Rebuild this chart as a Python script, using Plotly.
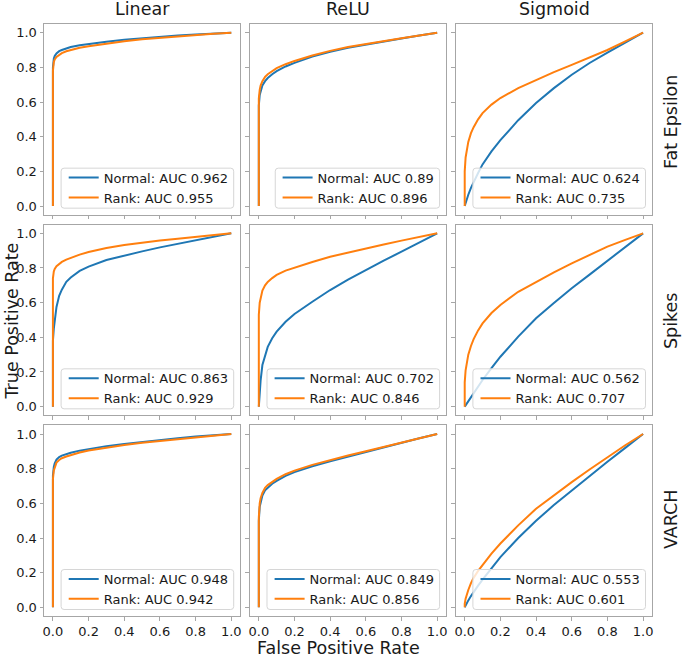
import plotly.graph_objects as go
from plotly.subplots import make_subplots

# Grid layout: columns are the activation, rows are the noise type
columns = ["Linear", "ReLU", "Sigmoid"]
rows = ["Fat Epsilon", "Spikes", "VARCH"]
tick_values = [0.0, 0.2, 0.4, 0.6, 0.8, 1.0]

# AUC values shown in the legends
auc_normal = [[0.962, 0.89, 0.624], [0.863, 0.702, 0.562], [0.948, 0.849, 0.553]]
auc_rank = [[0.955, 0.896, 0.735], [0.929, 0.846, 0.707], [0.942, 0.856, 0.601]]

# False positive rate grid shared by all curves
fpr = [0, 0, 0.005, 0.01, 0.02, 0.035, 0.05, 0.075, 0.1, 0.15, 0.2,
       0.3, 0.4, 0.5, 0.6, 0.7, 0.8, 0.9, 1.0]

# True positive rates, one list per curve
tpr_normal_linear_fat = [0, 0.80, 0.85, 0.865, 0.88, 0.893, 0.90, 0.91, 0.917, 0.927,
                         0.935, 0.948, 0.959, 0.968, 0.976, 0.983, 0.99, 0.995, 1.0]
tpr_rank_linear_fat = [0, 0.78, 0.83, 0.845, 0.86, 0.873, 0.882, 0.893, 0.90, 0.913,
                       0.922, 0.938, 0.951, 0.962, 0.971, 0.979, 0.987, 0.994, 1.0]
tpr_normal_relu_fat = [0, 0.58, 0.64, 0.665, 0.695, 0.72, 0.738, 0.76, 0.778, 0.805,
                       0.826, 0.862, 0.89, 0.913, 0.932, 0.95, 0.966, 0.983, 1.0]
tpr_rank_relu_fat = [0, 0.62, 0.67, 0.695, 0.72, 0.745, 0.76, 0.78, 0.795, 0.818,
                     0.837, 0.868, 0.895, 0.917, 0.935, 0.952, 0.968, 0.984, 1.0]
tpr_normal_sigmoid_fat = [0, 0, 0.02, 0.035, 0.065, 0.105, 0.14, 0.19, 0.24, 0.315,
                          0.38, 0.495, 0.594, 0.68, 0.757, 0.825, 0.885, 0.943, 1.0]
tpr_rank_sigmoid_fat = [0, 0.2, 0.28, 0.32, 0.37, 0.42, 0.455, 0.5, 0.536, 0.585,
                        0.623, 0.68, 0.728, 0.772, 0.814, 0.857, 0.9, 0.95, 1.0]

tpr_normal_linear_spikes = [0, 0.38, 0.45, 0.5, 0.575, 0.64, 0.675, 0.72, 0.745, 0.783,
                            0.808, 0.846, 0.872, 0.896, 0.919, 0.94, 0.962, 0.981, 1.0]
tpr_rank_linear_spikes = [0, 0.74, 0.78, 0.795, 0.81, 0.825, 0.835, 0.848, 0.858, 0.877,
                          0.892, 0.915, 0.933, 0.947, 0.958, 0.969, 0.98, 0.99, 1.0]
tpr_normal_relu_spikes = [0, 0, 0.1, 0.15, 0.24, 0.3, 0.345, 0.395, 0.433, 0.49,
                          0.535, 0.605, 0.673, 0.733, 0.79, 0.843, 0.894, 0.947, 1.0]
tpr_rank_relu_spikes = [0, 0.53, 0.6, 0.63, 0.67, 0.7, 0.72, 0.742, 0.76, 0.785,
                        0.803, 0.835, 0.865, 0.89, 0.913, 0.936, 0.958, 0.979, 1.0]
tpr_normal_sigmoid_spikes = [0, 0, 0.008, 0.016, 0.031, 0.054, 0.076, 0.115, 0.154, 0.222,
                             0.288, 0.404, 0.51, 0.598, 0.683, 0.762, 0.841, 0.92, 1.0]
tpr_rank_sigmoid_spikes = [0, 0.14, 0.21, 0.25, 0.3, 0.35, 0.39, 0.44, 0.48, 0.54,
                           0.587, 0.663, 0.72, 0.775, 0.827, 0.876, 0.923, 0.962, 1.0]

tpr_normal_linear_varch = [0, 0.76, 0.81, 0.83, 0.852, 0.867, 0.875, 0.885, 0.892, 0.904,
                           0.914, 0.93, 0.943, 0.955, 0.966, 0.976, 0.985, 0.993, 1.0]
tpr_rank_linear_varch = [0, 0.74, 0.79, 0.81, 0.835, 0.85, 0.86, 0.87, 0.878, 0.893,
                         0.905, 0.922, 0.936, 0.949, 0.96, 0.971, 0.982, 0.991, 1.0]
tpr_normal_relu_varch = [0, 0.5, 0.58, 0.61, 0.645, 0.675, 0.69, 0.713, 0.73, 0.758,
                         0.78, 0.814, 0.843, 0.87, 0.895, 0.922, 0.949, 0.975, 1.0]
tpr_rank_relu_varch = [0, 0.52, 0.6, 0.63, 0.66, 0.69, 0.705, 0.725, 0.741, 0.768,
                       0.789, 0.822, 0.85, 0.876, 0.9, 0.926, 0.952, 0.976, 1.0]
tpr_normal_sigmoid_varch = [0, 0, 0.012, 0.022, 0.04, 0.065, 0.09, 0.125, 0.16, 0.225,
                            0.29, 0.4, 0.5, 0.59, 0.675, 0.76, 0.84, 0.92, 1.0]
tpr_rank_sigmoid_varch = [0, 0.02, 0.05, 0.07, 0.1, 0.14, 0.17, 0.21, 0.243, 0.31,
                          0.368, 0.473, 0.569, 0.648, 0.722, 0.795, 0.866, 0.935, 1.0]

tpr_normal = [
    [tpr_normal_linear_fat, tpr_normal_relu_fat, tpr_normal_sigmoid_fat],
    [tpr_normal_linear_spikes, tpr_normal_relu_spikes, tpr_normal_sigmoid_spikes],
    [tpr_normal_linear_varch, tpr_normal_relu_varch, tpr_normal_sigmoid_varch],
]
tpr_rank = [
    [tpr_rank_linear_fat, tpr_rank_relu_fat, tpr_rank_sigmoid_fat],
    [tpr_rank_linear_spikes, tpr_rank_relu_spikes, tpr_rank_sigmoid_spikes],
    [tpr_rank_linear_varch, tpr_rank_relu_varch, tpr_rank_sigmoid_varch],
]

BLUE = "#1f77b4"
ORANGE = "#ff7f0e"
FRAME = "#a6a6a6"
TEXT = "#1a1a1a"
FONT = "DejaVu Sans"
LEGEND_SIZE = 13

W, H = 685, 657
ML, MR, MT, MB = 44, 33, 24, 41
PW, PH = W - ML - MR, H - MT - MB

# rough DejaVu Sans advance widths (in em) to size the legend frames
ADVANCE = {"N": 0.748, "o": 0.612, "r": 0.411, "m": 0.974, "a": 0.613, "l": 0.278,
           ":": 0.337, " ": 0.318, "A": 0.684, "U": 0.732, "C": 0.698, "R": 0.695,
           "n": 0.634, "k": 0.579, ".": 0.318}


def text_width(s):
    return sum(ADVANCE.get(ch, 0.636) for ch in s) * LEGEND_SIZE


def rounded_box(x0, y0, x1, y1, rx, ry):
    return (f"M {x0 + rx},{y0} L {x1 - rx},{y0} Q {x1},{y0} {x1},{y0 + ry} "
            f"L {x1},{y1 - ry} Q {x1},{y1} {x1 - rx},{y1} L {x0 + rx},{y1} "
            f"Q {x0},{y1} {x0},{y1 - ry} L {x0},{y0 + ry} Q {x0},{y0} {x0 + rx},{y0} Z")


fig = make_subplots(rows=3, cols=3, horizontal_spacing=9.7 / PW, vertical_spacing=10 / PH)

legends = {}
shapes = []
for r in range(3):
    for c in range(3):
        k = r * 3 + c + 1
        suffix = "" if k == 1 else str(k)
        leg_name = "legend" + suffix
        name_normal = f"Normal: AUC {auc_normal[r][c]}"
        name_rank = f"Rank: AUC {auc_rank[r][c]}"
        fig.add_trace(
            go.Scatter(x=fpr, y=tpr_normal[r][c], mode="lines",
                       line=dict(color=BLUE, width=2),
                       name=name_normal, legend=leg_name),
            row=r + 1, col=c + 1,
        )
        fig.add_trace(
            go.Scatter(x=fpr, y=tpr_rank[r][c], mode="lines",
                       line=dict(color=ORANGE, width=2),
                       name=name_rank, legend=leg_name),
            row=r + 1, col=c + 1,
        )
        xa = fig.layout["xaxis" + suffix]
        ya = fig.layout["yaxis" + suffix]
        pw = (xa.domain[1] - xa.domain[0]) * PW
        ph = (ya.domain[1] - ya.domain[0]) * PH

        # legend entries (frame drawn separately so it can be matplotlib-sized)
        legends[leg_name] = dict(
            x=xa.domain[1] - 6.5 / PW, y=ya.domain[0] + 2 / PH,
            xanchor="right", yanchor="bottom",
            bgcolor="rgba(0,0,0,0)", borderwidth=0,
            font=dict(family=FONT, size=LEGEND_SIZE, color=TEXT),
            itemwidth=30, tracegroupgap=0,
        )
        box_w = max(text_width(name_normal), text_width(name_rank)) + 48
        shapes.append(dict(
            type="path", xref=f"x{suffix} domain", yref=f"y{suffix} domain",
            path=rounded_box(1 - (6.5 + box_w) / pw, 6.5 / ph, 1 - 6.5 / pw,
                             46.5 / ph, 3 / pw, 3 / ph),
            line=dict(color="#d6d6d6", width=1),
            fillcolor="rgba(255,255,255,0.8)", layer="above",
        ))

fig.update_xaxes(range=[-0.05, 1.05], tickvals=tick_values, tickformat=".1f",
                 ticks="outside", ticklen=3.5, tickcolor=FRAME, tickwidth=1,
                 showline=True, linecolor=FRAME, linewidth=1, mirror=True,
                 showgrid=False, zeroline=False,
                 tickfont=dict(family=FONT, size=13, color=TEXT))
fig.update_yaxes(range=[-0.05, 1.05], tickvals=tick_values, tickformat=".1f",
                 ticks="outside", ticklen=3.5, tickcolor=FRAME, tickwidth=1,
                 showline=True, linecolor=FRAME, linewidth=1, mirror=True,
                 showgrid=False, zeroline=False,
                 tickfont=dict(family=FONT, size=13, color=TEXT))
for r in range(1, 3):
    fig.update_xaxes(showticklabels=False, row=r)
for c in range(2, 4):
    fig.update_yaxes(showticklabels=False, col=c)

annotations = []
col_centres = [142, 348, 554]
for name, cx in zip(columns, col_centres):
    annotations.append(dict(text=name, x=(cx - ML) / PW, y=1 + (MT - 9) / PH,
                            xref="paper", yref="paper", showarrow=False,
                            xanchor="center", yanchor="middle",
                            font=dict(family=FONT, size=17.5, color=TEXT)))
row_centres = [122, 321, 519]
for name, cy in zip(rows, row_centres):
    annotations.append(dict(text=name, x=(671 - ML) / PW, y=(H - MB - cy) / PH,
                            xref="paper", yref="paper", showarrow=False,
                            xanchor="center", yanchor="middle", textangle=-90,
                            font=dict(family=FONT, size=17.5, color=TEXT)))
annotations.append(dict(text="False Positive Rate", x=(338 - ML) / PW, y=(H - MB - 648) / PH,
                        xref="paper", yref="paper", showarrow=False,
                        xanchor="center", yanchor="middle",
                        font=dict(family=FONT, size=17.5, color=TEXT)))
annotations.append(dict(text="True Positive Rate", x=(11.5 - ML) / PW, y=(H - MB - 321) / PH,
                        xref="paper", yref="paper", showarrow=False,
                        xanchor="center", yanchor="middle", textangle=-90,
                        font=dict(family=FONT, size=17.5, color=TEXT)))

fig.update_layout(
    width=W, height=H,
    margin=dict(l=ML, r=MR, t=MT, b=MB),
    plot_bgcolor="white", paper_bgcolor="white",
    font=dict(family=FONT, color=TEXT),
    annotations=annotations,
    shapes=shapes,
    showlegend=True,
    **legends,
)

# drop the browser's default page margin so the figure sits at the window corner
fig.write_html("out.html", config={"displayModeBar": False},
               post_script="document.body.style.margin = '0';")
